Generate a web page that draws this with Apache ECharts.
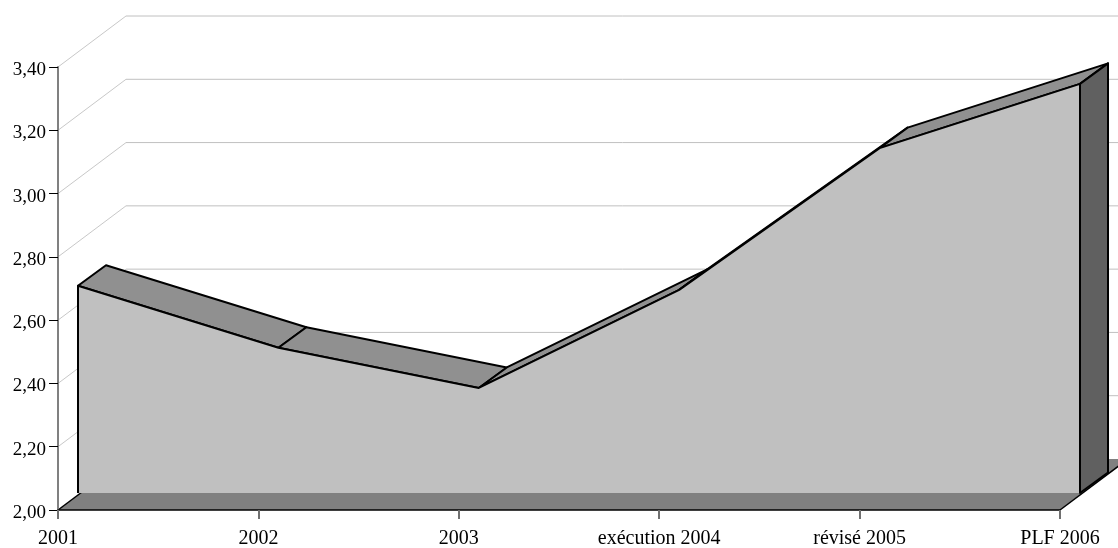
<!DOCTYPE html>
<html>
<head>
<meta charset="utf-8">
<style>html,body{margin:0;padding:0;background:#fff}#chart{width:1118px;height:548px}</style>
<script src="https://cdn.jsdelivr.net/npm/echarts@6/dist/echarts.min.js"></script>
</head>
<body>
<div id="chart"></div>
<script>
// Values per budget year
const categories = ['2001', '2002', '2003', 'exécution 2004', 'révisé 2005', 'PLF 2006'];
const values = [2.655, 2.459, 2.332, 2.642, 3.09, 3.293];
const yTicks = [2.2, 2.4, 2.6, 2.8, 3.0, 3.2, 3.4];
const yMin = 2, yMax = 3.4, yStep = 0.2;

// Oblique projection offsets: wall plane, front and back of the area slab
const WALL = [68, -51];
const FRONT = [20, -17];
const BACK = [48, -37.5];

const shift = (p, o) => [p[0] + o[0], p[1] + o[1]];
const last = categories.length - 1;

const chart = echarts.init(document.getElementById('chart'), null, { renderer: 'canvas' });

// Floor of the box, with its two visible side edges
function renderFloor(params, api) {
  const a = api.coord([0, yMin]), b = api.coord([last, yMin]);
  const edge = (p) => ({
    type: 'line',
    shape: { x1: p[0], y1: p[1], x2: p[0] + WALL[0], y2: p[1] + WALL[1] },
    style: { stroke: '#000', lineWidth: 1.5 }
  });
  return {
    type: 'group',
    children: [
      { type: 'polygon', shape: { points: [a, shift(a, WALL), shift(b, WALL), b] }, style: { fill: '#808080' } },
      edge(a), edge(b)
    ]
  };
}

// One gridline on the side wall and the back wall
function renderWall(params, api) {
  const v = api.value(1);
  const a = api.coord([0, v]), b = api.coord([last, v]);
  const w = shift(a, WALL), e = shift(b, WALL);
  return {
    type: 'group',
    children: [
      { type: 'line', shape: { x1: a[0], y1: a[1], x2: w[0], y2: w[1] }, style: { stroke: '#c8c8c8', lineWidth: 1 } },
      { type: 'line', shape: { x1: w[0], y1: w[1], x2: e[0], y2: e[1] }, style: { stroke: '#c0c0c0', lineWidth: 1 } }
    ]
  };
}

// Sloped top face between two consecutive years
function renderRibbon(params, api) {
  const i = api.value(0);
  if (i >= last) return null;
  const p = api.coord([i, api.value(1)]);
  const q = api.coord([i + 1, values[i + 1]]);
  return {
    type: 'polygon',
    shape: { points: [shift(p, FRONT), shift(p, BACK), shift(q, BACK), shift(q, FRONT)] },
    style: { fill: '#909090', stroke: '#000', lineWidth: 2, lineJoin: 'round' }
  };
}

// Front face of the slab plus its dark right-hand end
function renderFront(params, api) {
  if (params.dataIndex !== 0) return null;
  const tops = values.map((v, i) => shift(api.coord([i, v]), FRONT));
  const bl = shift(api.coord([0, yMin]), FRONT);
  const br = shift(api.coord([last, yMin]), FRONT);
  const tr = tops[last];
  const rightBack = shift(api.coord([last, values[last]]), BACK);
  const rightBase = shift(api.coord([last, yMin]), BACK);
  return {
    type: 'group',
    children: [
      { type: 'polygon', shape: { points: [tr, rightBack, rightBase, br] },
        style: { fill: '#606060', stroke: '#000', lineWidth: 2, lineJoin: 'round' } },
      { type: 'polygon', shape: { points: [bl, ...tops, br] }, style: { fill: '#c0c0c0' } },
      { type: 'polyline', shape: { points: [bl, ...tops, br] },
        style: { fill: 'none', stroke: '#000', lineWidth: 2, lineJoin: 'round' } }
    ]
  };
}

const font = { fontFamily: '"Liberation Serif", serif', fontSize: 19, color: '#000' };
const indexed = (arr) => arr.map((v, i) => [i, v]);

chart.setOption({
  animation: false,
  backgroundColor: '#fff',
  grid: { left: 58, right: 58, top: 67, bottom: 38, outerBoundsMode: 'none' },
  xAxis: {
    type: 'category',
    data: categories,
    boundaryGap: false,
    z: 5,
    axisLine: { show: true, onZero: false, lineStyle: { color: '#000', width: 1.5 } },
    axisTick: { show: true, inside: false, length: 9, alignWithLabel: true, lineStyle: { color: '#707070', width: 2 } },
    axisLabel: { ...font, fontSize: 20, margin: 19, interval: 0, hideOverlap: false, alignMinLabel: 'center', alignMaxLabel: 'center' },
    splitLine: { show: false }
  },
  yAxis: {
    type: 'value',
    min: yMin,
    max: yMax,
    interval: yStep,
    z: 5,
    axisLine: { show: true, lineStyle: { color: '#808080', width: 2 } },
    axisTick: { show: true, length: 9, lineStyle: { color: '#000', width: 1 } },
    axisLabel: { ...font, margin: 12, lineHeight: 6, verticalAlign: 'top',
      verticalAlignMinLabel: 'top', verticalAlignMaxLabel: 'top',
      formatter: (v) => v.toFixed(2).replace('.', ',') },
    splitLine: { show: false }
  },
  series: [
    { type: 'custom', name: 'sol', z: 1, silent: true, clip: false, renderItem: renderFloor,
      encode: { x: 0, y: 1 }, data: [[0, yMin]] },
    { type: 'custom', name: 'grille', z: 2, silent: true, clip: false, renderItem: renderWall,
      encode: { x: 0, y: 1 }, data: yTicks.map((v) => [0, v]) },
    { type: 'custom', name: 'dessus', z: 3, silent: true, clip: false, renderItem: renderRibbon,
      encode: { x: 0, y: 1 }, data: indexed(values) },
    { type: 'custom', name: 'face', z: 4, silent: true, clip: false, renderItem: renderFront,
      encode: { x: 0, y: 1 }, data: indexed(values) }
  ]
});
</script>
</body>
</html>
